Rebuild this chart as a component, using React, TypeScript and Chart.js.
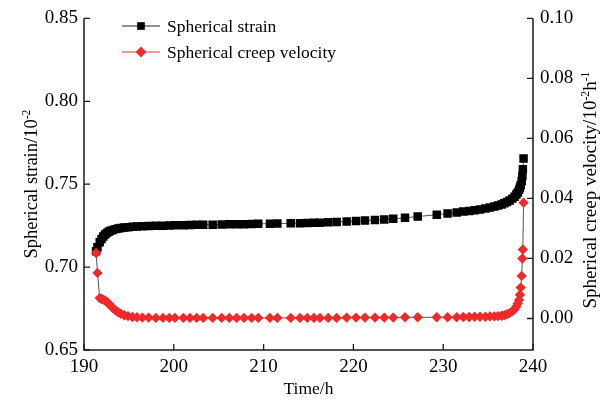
import React, { useEffect, useRef } from "react";
import { Chart, registerables } from "chart.js";

Chart.register(...registerables);

// ---- data ----
const times = [
  191.35, 191.5, 191.75, 191.95, 192.15, 192.35, 192.55, 192.75, 192.95, 193.2, 193.5, 193.8, 194.1, 194.5, 194.9, 195.4, 195.9, 196.5, 197.2, 198.0, 198.8, 199.5,
  200.13, 201.06, 201.8, 202.55, 203.28, 204.33, 205.33, 206.18, 207.0, 207.82, 208.67, 209.41, 210.71, 211.53, 213.02, 214.05, 214.87, 215.61, 216.28, 217.2, 218.14, 219.25, 220.29, 221.29, 222.4, 223.44, 224.44, 225.75, 227.16, 229.28, 230.49, 231.5,
  232.24, 232.9, 233.5, 234.1, 234.7, 235.2, 235.7, 236.1, 236.5, 236.8, 237.1, 237.4, 237.7, 237.95, 238.15, 238.3, 238.45, 238.55, 238.63, 238.74, 238.82, 238.87, 238.95,
];

const strain = [
  0.7095, 0.712, 0.715, 0.717, 0.7185, 0.7197, 0.7206, 0.7213, 0.7219, 0.7224, 0.7229, 0.7233, 0.7236, 0.7239, 0.7241, 0.7243, 0.7245, 0.7247, 0.7248, 0.7249, 0.725, 0.7251,
  0.7252, 0.7253, 0.7254, 0.7255, 0.7255, 0.7256, 0.7257, 0.7258, 0.7258, 0.7259, 0.726, 0.7261, 0.7262, 0.7263, 0.7264, 0.7265, 0.7266, 0.7267, 0.7268, 0.727, 0.7272, 0.7275, 0.7278, 0.7281, 0.7284, 0.7287, 0.7291, 0.7297, 0.7305, 0.7316, 0.7323, 0.733,
  0.7335, 0.7339, 0.7343, 0.7348, 0.7354, 0.7359, 0.7365, 0.7371, 0.7378, 0.7385, 0.7393, 0.7402, 0.7413, 0.7425, 0.7438, 0.745, 0.7466, 0.748, 0.7495, 0.752, 0.755, 0.759, 0.7655,
];

const velocity = [
  0.0218, 0.0152, 0.0068, 0.0065, 0.0063, 0.006, 0.0055, 0.0049, 0.0043, 0.0035, 0.0027, 0.0021, 0.0016, 0.0011, 0.0008, 0.0005, 0.0004, 0.0003, 0.0003, 0.0002, 0.0002, 0.0002,
  0.0002, 0.0002, 0.0002, 0.0002, 0.0002, 0.0002, 0.0002, 0.0002, 0.0002, 0.0002, 0.0002, 0.0002, 0.0002, 0.0002, 0.0002, 0.0002, 0.0002, 0.0002, 0.0002, 0.0002, 0.0002, 0.0003, 0.0003, 0.0003, 0.0003, 0.0003, 0.0003, 0.0004, 0.0004, 0.0004, 0.0004, 0.0004,
  0.0005, 0.0005, 0.0006, 0.0006, 0.0006, 0.0007, 0.0007, 0.0008, 0.0009, 0.0011, 0.0014, 0.0018, 0.0024, 0.0031, 0.004, 0.005, 0.0062, 0.0079, 0.0103, 0.0142, 0.02, 0.023, 0.0386,
];

const xTicks = [190, 200, 210, 220, 230, 240];
const leftTicks = [0.65, 0.7, 0.75, 0.8, 0.85];
const rightTicks = [0, 0.02, 0.04, 0.06, 0.08, 0.1];

const seriesNames = ["Spherical strain", "Spherical creep velocity"];
const xTitle = "Time/h";
const leftTitle = [{ text: "Spherical strain/10" }, { text: "-2", sup: true }];
const rightTitle = [
  { text: "Spherical creep velocity/10" },
  { text: "-2", sup: true },
  { text: "h" },
  { text: "-1", sup: true },
];

const FONT = '"Liberation Serif", "Times New Roman", Times, serif';
const RED = "#ee2a2a";
const LINE = "#555555";

type Part = { text: string; sup?: boolean };

function drawRich(ctx: CanvasRenderingContext2D, parts: Part[], x: number, y: number, rot: number, size: number) {
  ctx.save();
  ctx.translate(x, y);
  ctx.rotate(rot);
  const supSize = size * 0.62;
  const widths: number[] = [];
  let total = 0;
  parts.forEach((p) => {
    ctx.font = `${p.sup ? supSize : size}px ${FONT}`;
    const w = ctx.measureText(p.text).width;
    widths.push(w);
    total += w;
  });
  let cx = -total / 2;
  ctx.textBaseline = "alphabetic";
  ctx.textAlign = "left";
  ctx.fillStyle = "#000";
  parts.forEach((p, i) => {
    ctx.font = `${p.sup ? supSize : size}px ${FONT}`;
    const by = size * 0.33 - (p.sup ? size * 0.4 : 0);
    ctx.fillText(p.text, cx, by);
    cx += widths[i];
  });
  ctx.restore();
}

function drawMarker(ctx: CanvasRenderingContext2D, kind: string, x: number, y: number, r: number, color: string) {
  ctx.save();
  ctx.fillStyle = color;
  ctx.beginPath();
  if (kind === "rect") {
    const s = r * Math.SQRT1_2;
    ctx.rect(x - s, y - s, 2 * s, 2 * s);
  } else {
    ctx.moveTo(x - r, y);
    ctx.lineTo(x, y - r);
    ctx.lineTo(x + r, y);
    ctx.lineTo(x, y + r);
    ctx.closePath();
  }
  ctx.fill();
  ctx.restore();
}

const framePlugin = {
  id: "framePlugin",
  afterDraw(chart: any) {
    const { ctx, chartArea, scales } = chart;
    const { left, right, top, bottom } = chartArea;
    ctx.save();
    ctx.strokeStyle = "#1a1a1a";
    ctx.lineWidth = 1.5;
    ctx.beginPath();
    ctx.moveTo(left, top);
    ctx.lineTo(left, bottom);
    ctx.lineTo(right, bottom);
    ctx.lineTo(right, top);
    ctx.stroke();

    const T = 6;
    ctx.lineWidth = 1.3;
    ctx.beginPath();
    scales.x.ticks.forEach((t: any) => {
      const px = scales.x.getPixelForValue(t.value);
      ctx.moveTo(px, bottom);
      ctx.lineTo(px, bottom - T);
    });
    scales.y.ticks.forEach((t: any) => {
      const py = scales.y.getPixelForValue(t.value);
      ctx.moveTo(left, py);
      ctx.lineTo(left + T, py);
    });
    scales.y1.ticks.forEach((t: any) => {
      const py = scales.y1.getPixelForValue(t.value);
      ctx.moveTo(right, py);
      ctx.lineTo(right - T, py);
    });
    ctx.stroke();
    ctx.restore();

    // axis titles
    drawRich(ctx, [{ text: xTitle }], (left + right) / 2, 388, 0, 17.5);
    drawRich(ctx, leftTitle, 31, (top + bottom) / 2, -Math.PI / 2, 18.5);
    drawRich(ctx, rightTitle, 590, 190, -Math.PI / 2, 19);

    // legend
    const rows = [
      { name: seriesNames[0], kind: "rect", color: "#000", r: 5.4, y: 26 },
      { name: seriesNames[1], kind: "rectRot", color: RED, r: 5.4, y: 52 },
    ];
    rows.forEach((row) => {
      ctx.save();
      ctx.strokeStyle = row.kind === "rect" ? "#222" : "#e03a3a";
      ctx.lineWidth = 1;
      ctx.beginPath();
      ctx.moveTo(122, row.y);
      ctx.lineTo(160, row.y);
      ctx.stroke();
      ctx.restore();
      drawMarker(ctx, row.kind, 141, row.y, row.r, row.color);
      ctx.save();
      ctx.fillStyle = "#000";
      ctx.font = `17.5px ${FONT}`;
      ctx.textBaseline = "middle";
      ctx.textAlign = "left";
      ctx.fillText(row.name, 167, row.y + 1);
      ctx.restore();
    });
  },
};

export default function App() {
  const ref = useRef<HTMLCanvasElement | null>(null);

  useEffect(() => {
    document.body.style.margin = "0";
    const canvas = ref.current;
    if (!canvas) return;
    const strainData = times.map((t, i) => ({ x: t, y: strain[i] }));
    const velData = times.map((t, i) => ({ x: t, y: velocity[i] }));

    const tickFont = { family: FONT, size: 19 };

    const chart = new Chart(canvas, {
      type: "line",
      data: {
        datasets: [
          {
            label: seriesNames[0],
            data: strainData,
            yAxisID: "y",
            borderColor: LINE,
            borderWidth: 1,
            pointStyle: "rect",
            pointRadius: 6,
            pointBackgroundColor: "#000",
            pointBorderWidth: 0,
            order: 2,
          },
          {
            label: seriesNames[1],
            data: velData,
            yAxisID: "y1",
            borderColor: LINE,
            borderWidth: 1,
            pointStyle: "rectRot",
            pointRadius: 5.2,
            pointBackgroundColor: RED,
            pointBorderWidth: 0,
            order: 1,
          },
        ],
      },
      options: {
        responsive: false,
        animation: false,
        devicePixelRatio: 1,
        layout: { padding: { top: 15, left: 0, right: 0, bottom: 0 } },
        plugins: { legend: { display: false }, tooltip: { enabled: false } },
        elements: { line: { tension: 0 } },
        scales: {
          x: {
            type: "linear",
            min: 190,
            max: 240,
            grid: { display: false, drawTicks: false },
            border: { display: false },
            afterBuildTicks: (s: any) => {
              s.ticks = xTicks.map((v) => ({ value: v }));
            },
            afterFit: (s: any) => {
              s.height = 55;
            },
            ticks: {
              font: tickFont,
              color: "#000",
              padding: 6,
              maxRotation: 0,
              callback: (v: any) => String(v),
            },
          },
          y: {
            type: "linear",
            position: "left",
            min: 0.65,
            max: 0.85,
            grid: { display: false, drawTicks: false },
            border: { display: false },
            afterBuildTicks: (s: any) => {
              s.ticks = leftTicks.map((v) => ({ value: v }));
            },
            afterFit: (s: any) => {
              s.width = 84;
            },
            ticks: {
              font: tickFont,
              color: "#000",
              padding: 6,
              callback: (v: any) => Number(v).toFixed(2),
            },
          },
          y1: {
            type: "linear",
            position: "right",
            min: -0.0105,
            max: 0.1,
            grid: { display: false, drawTicks: false },
            border: { display: false },
            afterBuildTicks: (s: any) => {
              s.ticks = rightTicks.map((v) => ({ value: v }));
            },
            afterFit: (s: any) => {
              s.width = 80;
            },
            ticks: {
              font: tickFont,
              color: "#000",
              padding: 7,
              callback: (v: any) => Number(v).toFixed(2),
            },
          },
        },
      },
      plugins: [framePlugin],
    } as any);

    return () => chart.destroy();
  }, []);

  return (
    <div style={{ width: 613, height: 405 }}>
      <canvas ref={ref} width={613} height={405} style={{ display: "block" }} />
    </div>
  );
}
